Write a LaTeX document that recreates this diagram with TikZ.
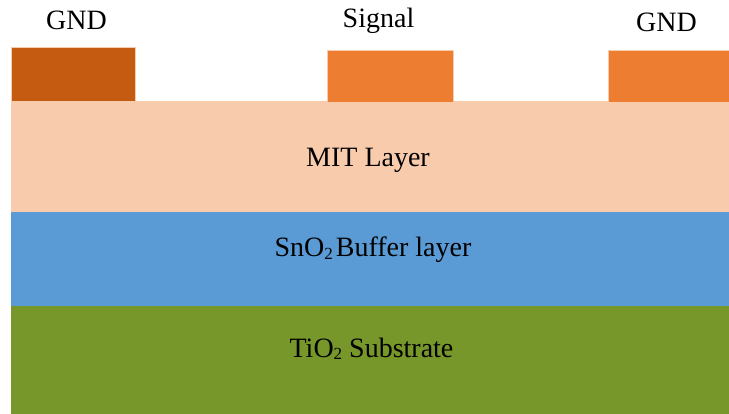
\documentclass[tikz,border=0pt]{standalone}
\usepackage{fontspec}
\setmainfont{Liberation Serif}
\definecolor{gnddark}{RGB}{197,90,17}
\definecolor{electrode}{RGB}{237,125,49}
\definecolor{edgelight}{RGB}{248,203,173}
\definecolor{mitlayer}{RGB}{248,203,173}
\definecolor{bufferlayer}{RGB}{91,155,213}
\definecolor{substrate}{RGB}{120,151,42}
% small, slightly lowered index digit
\newcommand\idx[1]{\raisebox{-0.1em}{\fontsize{17}{17}\selectfont #1}}
\begin{document}
\begin{tikzpicture}[x=1pt,y=-1pt,
  lbl/.style={anchor=base,inner sep=0pt,font=\fontsize{28}{30}\selectfont,text=black},
  pad/.style={draw=edgelight,line width=0.8pt}]
\useasboundingbox (0,0) rectangle (729,414);
% stacked layers
\fill[mitlayer]    (11,101) rectangle (729,212);
\fill[bufferlayer] (11,212) rectangle (729,306);
\fill[substrate]   (11,306) rectangle (729,414);
% electrodes on top of the film
\filldraw[pad,fill=gnddark]   (11,47) rectangle (135,101);
\filldraw[pad,fill=electrode] (327,50) rectangle (453,102);
\filldraw[pad,fill=electrode] (608,50) rectangle (732,102);
% labels
\node[lbl] (gndL)   at (76.5,30) {GND};
\node[lbl] (signal) at (378.5,28) {Signal};
\node[lbl] (gndR)   at (666.5,32) {GND};
\node[lbl] (mit)    at (368,167) {MIT Layer};
\node[lbl] (buffer) at (373,257) {SnO\idx{2}\hspace{3pt}Buffer layer};
\node[lbl] (sub)    at (371.5,357) {TiO\idx{2} Substrate};
\end{tikzpicture}
\end{document}
